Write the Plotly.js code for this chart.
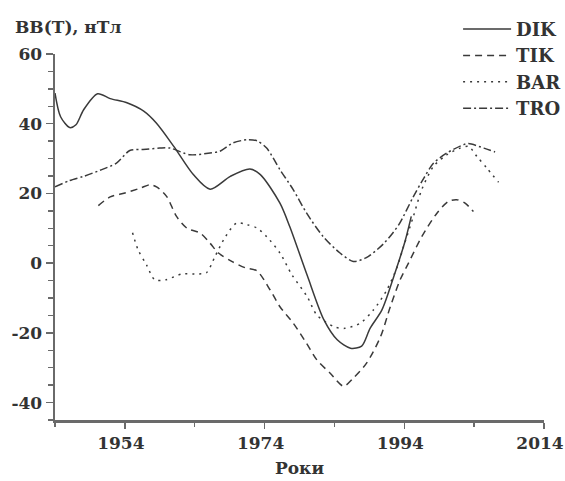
<!DOCTYPE html>
<html>
<head>
<meta charset="utf-8">
<script src="https://cdn.plot.ly/plotly-3.0.1.min.js"></script>
<style>html,body{margin:0;padding:0;background:#fff;}#chart{width:565px;height:481px;}</style>
</head>
<body>
<div id="chart"></div>
<script>
// ---- data ----
const dikYears = [1944, 1944.8, 1946.1, 1947, 1948.1, 1950.1, 1951.9, 1954.3, 1956.7, 1958.5, 1961, 1963.8, 1966.2, 1969.1, 1971.9, 1973.4, 1976.2, 1977.6, 1980.1, 1982.5, 1984.4, 1986.3, 1987.9, 1989.1, 1990.8, 1992.5, 1994.1, 1995];
const dikValues = [48.8, 42, 38.9, 39.7, 44, 48.6, 47.2, 46, 43.6, 40.2, 33.5, 25.4, 21.2, 24.9, 27, 25.4, 17.2, 10.5, -3.5, -16.3, -22, -24.4, -23.8, -18.7, -13.4, -3.8, 6.2, 13.4];

const tikYears = [1950.2, 1951.9, 1954, 1956.2, 1957.6, 1958.6, 1960, 1961.4, 1962.9, 1964.8, 1966.2, 1967.4, 1969.3, 1971.2, 1972.9, 1974.8, 1976.2, 1978.1, 1980, 1981.5, 1983.4, 1985.3, 1986.7, 1988.6, 1990.6, 1992, 1993.4, 1994.6, 1996.5, 1998.7, 2000.3, 2001.5, 2002.7, 2003.9];
const tikValues = [16.5, 19, 20.1, 21.5, 22.5, 21.8, 19.1, 13.4, 10, 8.6, 5.7, 2.9, 0.5, -1.3, -2.2, -7.7, -12.5, -17.2, -23, -27.8, -31.6, -35.3, -33, -28.7, -21.1, -12.5, -4.8, 0, 7.6, 14.4, 17.7, 18.2, 17.2, 14.8];

const barYears = [1955.1, 1955.9, 1957.1, 1958.3, 1959.8, 1962.2, 1964.5, 1965.7, 1966.9, 1968.4, 1970, 1971.5, 1972.9, 1974.3, 1976.2, 1977.9, 1980.1, 1981.5, 1983.9, 1985.5, 1987.7, 1989.6, 1991.5, 1993, 1993.9, 1995.3, 1996.5, 1998.2, 2000.1, 2002, 2003.2, 2004.4, 2005.8, 2007.5];
const barValues = [8.7, 3.8, -0.5, -4.8, -4.8, -3.1, -3.1, -2.7, 1.9, 7.6, 11.5, 11, 10.1, 7.6, 2.9, -3.3, -9.6, -14.9, -18.2, -18.7, -17.2, -13.4, -7.7, -1, 4.8, 13.4, 21.1, 27.8, 31.1, 33, 33.5, 30.6, 27.3, 23.2];

const troYears = [1944, 1946.1, 1948.1, 1950.4, 1952.8, 1954.7, 1956.6, 1959, 1960.5, 1963.3, 1966.2, 1967.6, 1969.5, 1971.5, 1972.9, 1974.3, 1976.2, 1978.1, 1980, 1982.4, 1984.8, 1986.7, 1988.5, 1991, 1993.2, 1995.3, 1996.8, 1998.2, 2000.1, 2002.5, 2003.2, 2005.4, 2007];
const troValues = [21.9, 23.7, 24.9, 26.6, 28.7, 32.3, 32.6, 33, 33, 31.1, 31.6, 32.1, 34.5, 35.4, 35.1, 33, 26.8, 21.1, 14.4, 7.6, 2.9, 0.5, 1.5, 5.5, 11, 19.1, 24.4, 28.7, 31.6, 34, 34.3, 33, 31.9];

const seriesNames = ['DIK', 'TIK', 'BAR', 'TRO'];
const yTickVals = [-40, -20, 0, 20, 40, 60];
const yTickText = ['-40', '-20', '0', '20', '40', '60'];
const xTickVals = [1954, 1974, 1994, 2014];
const xTickText = ['1954', '1974', '1994', '2014'];
const yTitle = 'BB(T), нТл';
const xTitle = 'Роки';

// ---- styles ----
const FONT = 'DejaVu Serif';
const TXT = '#333333';
const LINE = '#3a3a3a';
const AX = '#6a6a6a';

function tr(name, x, y, dash, grp) {
  return {
    type: 'scatter', mode: 'lines', name: name, x: x, y: y,
    legendgroup: grp,
    line: {color: LINE, width: 1.5, dash: dash, shape: 'spline', smoothing: 0.8},
    hoverinfo: 'skip'
  };
}

const data = [
  tr(seriesNames[0], dikYears, dikValues, 'solid', 'a'),
  tr(seriesNames[1], tikYears, tikValues, '7px,5px', 'b'),
  tr(seriesNames[2], barYears, barValues, '2px,5px', 'c'),
  tr(seriesNames[3], troYears, troValues, '8px,3px,2px,3px', 'd')
];

const layout = {
  width: 565, height: 481,
  margin: {l: 55, r: 21, t: 54, b: 61, autoexpand: false},
  paper_bgcolor: '#fff', plot_bgcolor: '#fff',
  font: {family: FONT, color: TXT, size: 17, weight: 'bold'},
  showlegend: true,
  legend: {
    x: 0.8243, xanchor: 'left', y: 1.118, yanchor: 'top',
    traceorder: 'grouped', tracegroupgap: 0,
    itemwidth: 48,
    font: {family: FONT, size: 18, color: TXT, weight: 'bold'},
    bgcolor: 'rgba(0,0,0,0)'
  },
  xaxis: {
    range: [1944, 2014], showgrid: false, zeroline: false,
    showline: true, linecolor: AX, linewidth: 2.5,
    tickmode: 'array', tickvals: xTickVals, ticktext: xTickText,
    ticks: 'outside', ticklen: 6, tickwidth: 1.5, tickcolor: AX,
    minor: {dtick: 10, tick0: 1944, ticks: 'outside', ticklen: 4, tickwidth: 1.5, tickcolor: AX},
    tickfont: {family: FONT, size: 17, color: TXT, weight: 'bold'},
    ticklabeloverflow: 'allow',
    ticklabelshift: -4,
    title: {text: xTitle, font: {family: FONT, size: 17, color: TXT, weight: 'bold'}, standoff: 10},
    automargin: false,
    fixedrange: true
  },
  yaxis: {
    range: [-45, 60], showgrid: false, zeroline: false,
    showline: true, linecolor: AX, linewidth: 2.5,
    tickmode: 'array', tickvals: yTickVals, ticktext: yTickText,
    ticks: 'outside', ticklen: 7, tickwidth: 1.5, tickcolor: AX,
    minor: {dtick: 5, tick0: 0, ticks: 'outside', ticklen: 5, tickwidth: 1.5, tickcolor: AX},
    tickfont: {family: FONT, size: 17, color: TXT, weight: 'bold'},
    ticklabeloverflow: 'allow',
    automargin: false,
    fixedrange: true
  },
  annotations: [{
    text: yTitle, xref: 'paper', yref: 'paper', x: -0.085, y: 1.074,
    xanchor: 'left', yanchor: 'middle', showarrow: false,
    font: {family: FONT, size: 17, color: TXT, weight: 'bold'}
  }]
};

Plotly.newPlot('chart', data, layout, {staticPlot: true, displayModeBar: false});
</script>
</body>
</html>
